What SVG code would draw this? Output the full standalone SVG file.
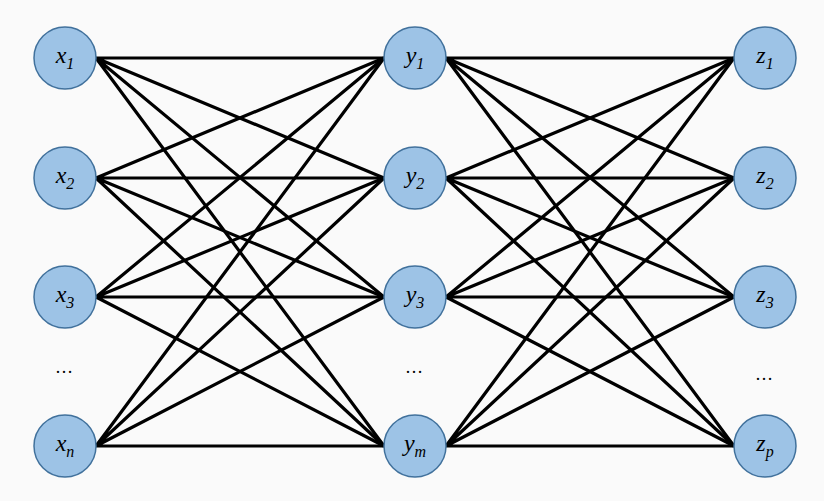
<svg xmlns="http://www.w3.org/2000/svg" width="824" height="501" viewBox="0 0 824 501">
<style>
.n{fill:#9dc3e6;stroke:#41719c;stroke-width:1.5}
.t{font-family:"Liberation Serif","Times New Roman",serif;font-style:italic;font-size:24px;fill:#000}
.s{font-size:16px}
.e{stroke:#000;stroke-width:3.2;fill:none}
.d{font-family:"Liberation Serif",serif;font-size:18px;fill:#000}
</style>
<rect width="824" height="501" fill="#fafafa"/>
<g id="connectors" class="e">
<path d="M96 58L384 58M96 58L384 178M96 58L384 297M96 58L384 446"/>
<path d="M96 178L384 58M96 178L384 178M96 178L384 297M96 178L384 446"/>
<path d="M96 297L384 58M96 297L384 178M96 297L384 297M96 297L384 446"/>
<path d="M96 446L384 58M96 446L384 178M96 446L384 297M96 446L384 446"/>
<path d="M446 58L734 58M446 58L734 178M446 58L734 297M446 58L734 446"/>
<path d="M446 178L734 58M446 178L734 178M446 178L734 297M446 178L734 446"/>
<path d="M446 297L734 58M446 297L734 178M446 297L734 297M446 297L734 446"/>
<path d="M446 446L734 58M446 446L734 178M446 446L734 297M446 446L734 446"/>
</g>
<g id="x1"><circle class="n" cx="65" cy="58" r="31"/><text class="t" x="65" y="63" text-anchor="middle">x<tspan class="s" dy="6">1</tspan></text></g>
<g id="x2"><circle class="n" cx="65" cy="178" r="31"/><text class="t" x="65" y="183" text-anchor="middle">x<tspan class="s" dy="6">2</tspan></text></g>
<g id="x3"><circle class="n" cx="65" cy="297" r="31"/><text class="t" x="65" y="302" text-anchor="middle">x<tspan class="s" dy="6">3</tspan></text></g>
<g id="xn"><circle class="n" cx="65" cy="446" r="31"/><text class="t" x="65" y="451" text-anchor="middle">x<tspan class="s" dy="6">n</tspan></text></g>
<g id="y1"><circle class="n" cx="415" cy="58" r="31"/><text class="t" x="415" y="63" text-anchor="middle">y<tspan class="s" dy="6">1</tspan></text></g>
<g id="y2"><circle class="n" cx="415" cy="178" r="31"/><text class="t" x="415" y="183" text-anchor="middle">y<tspan class="s" dy="6">2</tspan></text></g>
<g id="y3"><circle class="n" cx="415" cy="297" r="31"/><text class="t" x="415" y="302" text-anchor="middle">y<tspan class="s" dy="6">3</tspan></text></g>
<g id="ym"><circle class="n" cx="415" cy="446" r="31"/><text class="t" x="415" y="451" text-anchor="middle">y<tspan class="s" dy="6">m</tspan></text></g>
<g id="z1"><circle class="n" cx="765" cy="58" r="31"/><text class="t" x="765" y="63" text-anchor="middle">z<tspan class="s" dy="6">1</tspan></text></g>
<g id="z2"><circle class="n" cx="765" cy="178" r="31"/><text class="t" x="765" y="183" text-anchor="middle">z<tspan class="s" dy="6">2</tspan></text></g>
<g id="z3"><circle class="n" cx="765" cy="297" r="31"/><text class="t" x="765" y="302" text-anchor="middle">z<tspan class="s" dy="6">3</tspan></text></g>
<g id="zp"><circle class="n" cx="765" cy="446" r="31"/><text class="t" x="765" y="451" text-anchor="middle">z<tspan class="s" dy="6">p</tspan></text></g>
<text class="d" x="64" y="373" text-anchor="middle">…</text>
<text class="d" x="414" y="373" text-anchor="middle">…</text>
<text class="d" x="764" y="380" text-anchor="middle">…</text>
</svg>
